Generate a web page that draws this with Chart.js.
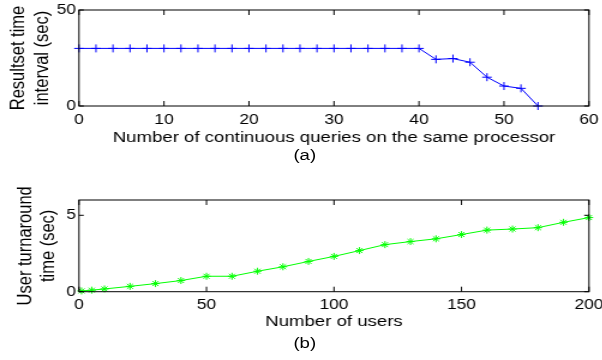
<!DOCTYPE html>
<html>
<head>
<meta charset="utf-8">
<script src="https://cdn.jsdelivr.net/npm/chart.js@4.4.0/dist/chart.umd.min.js"></script>
<style>
  html, body { margin: 0; padding: 0; background: #fff; overflow: hidden; }
  #stage { position: absolute; left: 0; top: 0; width: 502px; height: 360px;
           transform: scaleX(1.2); transform-origin: 0 0; }
  canvas { position: absolute; left: 0; }
  .cap { position: absolute; width: 502px; left: 0; text-align: center;
         font: 15.5px "Liberation Sans", Arial, Helvetica, sans-serif; color: #000; }
</style>
</head>
<body>
<div id="stage">
  <canvas id="chartA" width="502" height="170" style="top:0"></canvas>
  <canvas id="chartB" width="502" height="184" style="top:176px"></canvas>
  <div class="cap" style="top:146px; left:3px;">(a)</div>
  <div class="cap" style="top:334px; left:3px;">(b)</div>
</div>
<script>
// --- data (a): resultset time interval vs number of queries ---
const queriesA = [0, 2, 4, 6, 8, 10, 12, 14, 16, 18, 20, 22, 24, 26, 28, 30, 32, 34, 36, 38, 40, 42, 44, 46, 48, 50, 52, 54];
const intervalA = [30, 30, 30, 30, 30, 30, 30, 30, 30, 30, 30, 30, 30, 30, 30, 30, 30, 30, 30, 30, 30, 24.3, 24.7, 22.8, 15, 10.4, 9.2, 0];
const xTicksA = [0, 10, 20, 30, 40, 50, 60];
const yTicksA = [0, 50];

// --- data (b): user turnaround time vs number of users ---
const usersB = [1, 5, 10, 20, 30, 40, 50, 60, 70, 80, 90, 100, 110, 120, 130, 140, 150, 160, 170, 180, 190, 200];
const turnaroundB = [0.05, 0.1, 0.18, 0.35, 0.53, 0.73, 1.01, 1.01, 1.34, 1.63, 1.98, 2.31, 2.69, 3.08, 3.28, 3.46, 3.74, 4.03, 4.1, 4.19, 4.54, 4.85];
const xTicksB = [0, 50, 100, 150, 200];
const yTicksB = [0, 5];

const FONT = '"Liberation Sans", Arial, Helvetica, sans-serif';

// frame + inward ticks like matlab axes
const boxPlugin = {
    id: 'box',
    afterDraw(chart) {
        const { ctx, chartArea: a, scales } = chart;
        ctx.save();
        ctx.strokeStyle = '#000';
        ctx.lineWidth = 1;
        ctx.strokeRect(a.left, a.top, a.right - a.left, a.bottom - a.top);
        ctx.beginPath();
        scales.x.ticks.forEach(t => {
            const px = scales.x.getPixelForValue(t.value);
            ctx.moveTo(px, a.bottom); ctx.lineTo(px, a.bottom - 5);
            ctx.moveTo(px, a.top); ctx.lineTo(px, a.top + 5);
        });
        scales.y.ticks.forEach(t => {
            const py = scales.y.getPixelForValue(t.value);
            ctx.moveTo(a.left, py); ctx.lineTo(a.left + 4, py);
            ctx.moveTo(a.right, py); ctx.lineTo(a.right - 4, py);
        });
        ctx.stroke();
        ctx.restore();
    }
};

function makeChart(id, xs, ys, opt) {
    const ctx = document.getElementById(id).getContext('2d');
    return new Chart(ctx, {
        type: 'line',
        data: {
            datasets: [{
                data: xs.map((x, i) => ({ x: x, y: ys[i] })),
                borderColor: opt.color,
                backgroundColor: opt.color,
                borderWidth: 1,
                pointStyle: opt.marker,
                pointRadius: opt.markerSize,
                pointBorderWidth: 1,
                pointBorderColor: opt.color,
                fill: false,
                tension: 0,
                clip: false
            }]
        },
        options: {
            responsive: false,
            devicePixelRatio: 1,
            animation: false,
            layout: { padding: { top: opt.topPad, right: 11.2, left: 0, bottom: 0 } },
            plugins: { legend: { display: false }, tooltip: { enabled: false } },
            scales: {
                x: {
                    type: 'linear',
                    min: opt.xTicks[0],
                    max: opt.xTicks[opt.xTicks.length - 1],
                    afterBuildTicks: s => { s.ticks = opt.xTicks.map(v => ({ value: v })); },
                    afterFit: s => { s.height = opt.xHeight; s.paddingLeft = 0; s.paddingRight = 0; },
                    grid: { display: false, drawTicks: false },
                    border: { display: false },
                    ticks: { color: '#000', padding: 5, maxRotation: 0, font: { family: FONT, size: 14.5 } },
                    title: {
                        display: true, text: opt.xTitle, color: '#000',
                        font: { family: FONT, size: 15.5 },
                        padding: { top: 0, bottom: opt.xTitlePad }
                    }
                },
                y: {
                    type: 'linear',
                    min: opt.yMin,
                    max: opt.yMax,
                    afterBuildTicks: s => { s.ticks = opt.yTicks.map(v => ({ value: v })); },
                    afterFit: s => { s.width = 65.8; s.paddingTop = 0; s.paddingBottom = 0; },
                    grid: { display: false, drawTicks: false },
                    border: { display: false },
                    ticks: { color: '#000', padding: 2.5, font: { family: FONT, size: 14.5 } },
                    title: {
                        display: true, text: opt.yTitle, color: '#000',
                        font: { family: FONT, size: 16.5, lineHeight: 1.18 },
                        padding: { top: opt.yTitlePad, bottom: 0 }
                    }
                }
            }
        },
        plugins: [boxPlugin]
    });
}

makeChart('chartA', queriesA, intervalA, {
    color: '#0000ff', marker: 'cross', markerSize: 4,
    xTicks: xTicksA, yTicks: yTicksA, yMin: 0, yMax: 50,
    topPad: 10, xHeight: 64, xTitlePad: 23, yTitlePad: 6,
    xTitle: 'Number of continuous queries on the same processor',
    yTitle: ['Resultset time', 'interval (sec)']
});

makeChart('chartB', usersB, turnaroundB, {
    color: '#00ff00', marker: 'star', markerSize: 3.5,
    xTicks: xTicksB, yTicks: yTicksB, yMin: 0, yMax: 6,
    topPad: 24, xHeight: 68.3, xTitlePad: 29, yTitlePad: 11.5,
    xTitle: 'Number of users',
    yTitle: ['User turnaround', 'time (sec)']
});
</script>
</body>
</html>
